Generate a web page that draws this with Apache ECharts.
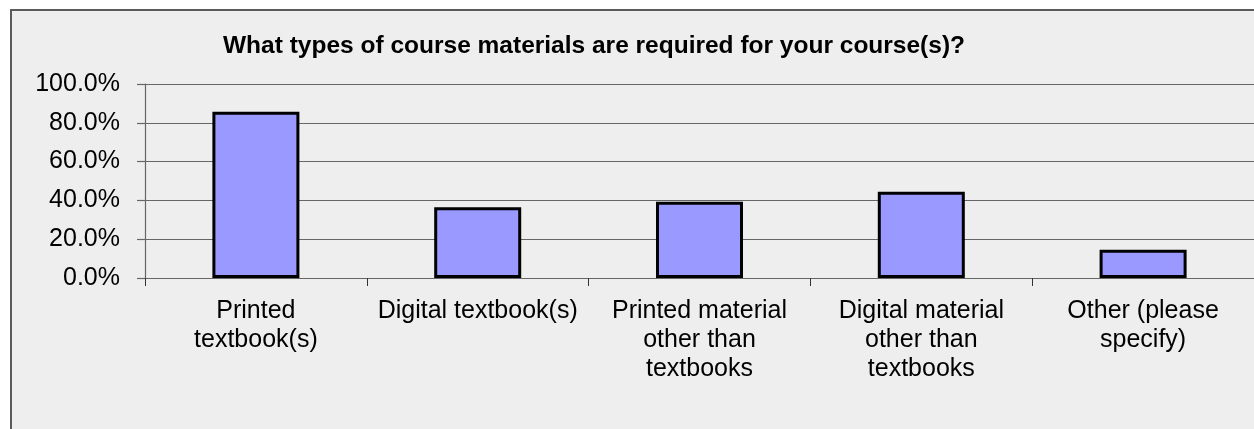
<!DOCTYPE html>
<html>
<head>
<meta charset="utf-8">
<script src="https://cdn.jsdelivr.net/npm/echarts@6/dist/echarts.min.js"></script>
<style>
  html, body { margin: 0; padding: 0; background: #ffffff; overflow: hidden; }
  #frame {
    position: absolute; left: 10px; top: 9px; width: 1400px; height: 600px;
    background: #eeeeee; border: 2px solid #5a5a5a; box-sizing: border-box;
  }
  #chart { position: absolute; left: 0; top: 0; width: 1254px; height: 429px; }
</style>
</head>
<body>
<div id="frame"></div>
<div id="chart"></div>
<script>
const titleText = 'What types of course materials are required for your course(s)?'
const categories = [
  'Printed\ntextbook(s)',
  'Digital textbook(s)',
  'Printed material\nother than\ntextbooks',
  'Digital material\nother than\ntextbooks',
  'Other (please\nspecify)'
]
const percentValues = [85.7, 36.5, 39.3, 44.4, 14.6]
const yTicks = [0, 20, 40, 60, 80, 100]

const font = '"Liberation Sans", Arial, sans-serif'
const chart = echarts.init(document.getElementById('chart'), null, { renderer: 'canvas' })

const option = {
  animation: false,
  backgroundColor: 'transparent',
  title: {
    text: titleText,
    left: 589,
    top: 29,
    textAlign: 'center',
    textStyle: { fontFamily: font, fontSize: 24.5, fontWeight: 'bold', color: '#000' }
  },
  grid: { left: 145, top: 84, width: 1114, height: 194 },
  xAxis: {
    type: 'category',
    data: categories,
    axisLine: { lineStyle: { color: '#666', width: 1.2 } },
    axisTick: { show: true, length: 8, lineStyle: { color: '#333' } },
    axisLabel: {
      interval: 0,
      margin: 19,
      color: '#000',
      fontFamily: font,
      fontSize: 25,
      lineHeight: 29
    }
  },
  yAxis: {
    type: 'value',
    min: yTicks[0],
    max: yTicks[yTicks.length - 1],
    interval: 20,
    axisLine: { show: true, lineStyle: { color: '#666', width: 1.2 } },
    axisTick: { show: true, length: 8, lineStyle: { color: '#666', width: 1.2 } },
    splitLine: { lineStyle: { color: '#666', width: 1.2 } },
    axisLabel: {
      margin: 25,
      color: '#000',
      fontFamily: font,
      fontSize: 25,
      formatter: v => v.toFixed(1) + '%'
    }
  },
  series: [{
    type: 'bar',
    data: percentValues,
    barWidth: 87,
    itemStyle: { color: '#9999ff', borderColor: '#000', borderWidth: 3 }
  }]
}

chart.setOption(option)
</script>
</body>
</html>
